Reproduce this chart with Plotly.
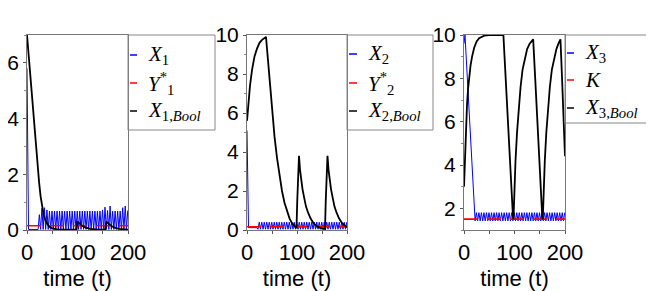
import plotly.graph_objects as go
from plotly.subplots import make_subplots

# ---------------- data ----------------
# oscillation time grid shared by the three panels
osc_trough_t = [22, 27, 32, 37, 42, 47, 52, 57, 62, 67, 72, 77, 82, 87, 92, 97, 102, 107,
                112, 117, 122, 127, 132, 137, 142, 147, 152, 157, 162, 167, 172, 177, 182,
                187, 192, 197]
osc_peak_t = [24.5, 29.5, 34.5, 39.5, 44.5, 49.5, 54.5, 59.5, 64.5, 69.5, 74.5, 79.5, 84.5,
              89.5, 94.5, 99.5, 104.5, 109.5, 114.5, 119.5, 124.5, 129.5, 134.5, 139.5,
              144.5, 149.5, 154.5, 159.5, 164.5, 169.5, 174.5, 179.5, 184.5, 189.5, 194.5,
              199.5]

# Panel 1
x1_pre_t = [0, 3, 20]
x1_pre_v = [5.8, 0.02, 0.02]
x1_trough_v = [0.02, 0.02, 0.02, 0.02, 0.02, 0.02, 0.02, 0.02, 0.02, 0.02, 0.02, 0.02,
               0.02, 0.02, 0.02, 0.02, 0.02, 0.02, 0.02, 0.02, 0.02, 0.02, 0.02, 0.02,
               0.02, 0.02, 0.02, 0.02, 0.02, 0.02, 0.02, 0.02, 0.02, 0.02, 0.02, 0.02]
x1_peak_v = [0.55, 0.78, 0.80, 0.72, 0.68, 0.68, 0.68, 0.68, 0.68, 0.68, 0.68, 0.68,
             0.68, 0.68, 0.68, 0.68, 0.68, 0.68, 0.68, 0.68, 0.68, 0.68, 0.68, 0.68,
             0.68, 0.72, 0.82, 0.70, 0.86, 0.68, 0.68, 0.68, 0.68, 0.80, 0.86, 0.70]
y1_t = [0, 200]
y1_v = [0.15, 0.15]
x1b_t = [0, 3, 6, 9, 12, 15, 18, 21, 24, 27, 30, 33, 36, 40, 45, 50, 60, 80, 98,
         100, 103, 108, 115, 125, 140, 155, 157, 160, 165, 172, 182, 200]
x1b_v = [7.0, 6.3, 5.6, 5.0, 4.4, 3.7, 3.0, 2.3, 1.7, 1.2, 0.8, 0.55, 0.37, 0.22, 0.11,
         0.06, 0.02, 0.01, 0.01, 0.30, 0.25, 0.17, 0.09, 0.04, 0.01, 0.01, 0.30, 0.25,
         0.17, 0.09, 0.04, 0.01]

# Panel 2
x2_pre_t = [0, 3, 20]
x2_pre_v = [5.1, 0.12, 0.12]
x2_trough_v = [0.04, 0.04, 0.04, 0.04, 0.04, 0.04, 0.04, 0.04, 0.04, 0.04, 0.04, 0.04,
               0.04, 0.04, 0.04, 0.04, 0.04, 0.04, 0.04, 0.04, 0.04, 0.04, 0.04, 0.04,
               0.04, 0.04, 0.04, 0.04, 0.04, 0.04, 0.04, 0.04, 0.04, 0.04, 0.04, 0.04]
x2_peak_v = [0.40, 0.40, 0.40, 0.40, 0.40, 0.40, 0.40, 0.40, 0.40, 0.40, 0.40, 0.40,
             0.40, 0.40, 0.40, 0.40, 0.40, 0.40, 0.40, 0.40, 0.40, 0.40, 0.40, 0.40,
             0.40, 0.40, 0.40, 0.40, 0.40, 0.40, 0.40, 0.40, 0.40, 0.40, 0.40, 0.40]
y2_t = [0, 200]
y2_v = [0.17, 0.17]
x2b_t = [0, 3, 6, 10, 15, 20, 25, 30, 38, 40, 43, 46, 50, 55, 60, 65, 70, 75, 80, 85, 90,
         95, 99, 100.5, 102, 104, 106, 108, 111, 114, 118, 122, 127, 133, 140, 150, 156,
         157.5, 159, 161, 163, 165, 168, 171, 175, 179, 184, 190, 197, 200]
x2b_v = [5.6, 6.6, 7.4, 8.2, 8.9, 9.3, 9.6, 9.75, 9.9, 9.3, 8.3, 7.3, 6.1, 4.8, 3.7, 2.8,
         2.0, 1.4, 0.95, 0.6, 0.35, 0.18, 0.1, 1.5, 2.7, 3.8, 3.1, 2.6, 2.1, 1.7, 1.2,
         0.9, 0.6, 0.35, 0.18, 0.07, 0.05, 1.5, 2.7, 3.8, 3.1, 2.6, 2.1, 1.7, 1.2, 0.9,
         0.6, 0.35, 0.18, 0.14]

# Panel 3
x3_pre_t = [0, 2, 8, 14, 19]
x3_pre_v = [9.6, 10.0, 7.4, 4.8, 2.6]
x3_trough_v = [1.42, 1.42, 1.42, 1.42, 1.42, 1.42, 1.42, 1.42, 1.42, 1.42, 1.42, 1.42,
               1.42, 1.42, 1.42, 1.42, 1.42, 1.42, 1.42, 1.42, 1.42, 1.42, 1.42, 1.42,
               1.42, 1.42, 1.42, 1.42, 1.42, 1.42, 1.42, 1.42, 1.42, 1.42, 1.42, 1.42]
x3_peak_v = [1.80, 1.80, 1.80, 1.80, 1.80, 1.80, 1.80, 1.80, 1.80, 1.80, 1.80, 1.80,
             1.80, 1.80, 1.80, 1.80, 1.80, 1.80, 1.80, 1.80, 1.80, 1.80, 1.80, 1.80,
             1.80, 1.80, 1.80, 1.80, 1.80, 1.80, 1.80, 1.80, 1.80, 1.80, 1.80, 1.80]
k_t = [0, 200]
k_v = [1.5, 1.5]
x3b_t = [0, 2, 4, 6, 8, 10, 13, 16, 20, 25, 30, 40, 50, 78, 82, 86, 90, 94, 97, 98,
         100, 102, 105, 108, 112, 116, 120, 125, 130, 137, 141, 145, 149, 152, 155, 156,
         158, 160, 163, 166, 170, 174, 178, 183, 187, 191, 194, 197, 200]
x3b_v = [3.0, 4.6, 5.8, 6.8, 7.5, 8.0, 8.6, 9.0, 9.4, 9.7, 9.85, 9.97, 10.0, 10.0, 8.2,
         6.3, 4.4, 2.7, 1.6, 1.5, 3.0, 4.2, 5.5, 6.6, 7.6, 8.4, 8.9, 9.35, 9.6, 9.8, 8.0,
         6.0, 4.2, 2.9, 1.6, 1.5, 3.0, 4.2, 5.5, 6.6, 7.6, 8.4, 8.9, 9.35, 9.6, 9.8, 8.1,
         6.2, 4.4]

y_ranges = [[0, 7], [0, 10], [1, 10]]
x_tickvals = [0, 50, 100, 150, 200]
x_ticktext = ["0", "", "100", "", "200"]

legend_labels = [
    ["<i>X</i><sub>1</sub>", "<i>Y</i><sup>*</sup><sub>1</sub>", "<i>X</i><sub>1,<i>Bool</i></sub>"],
    ["<i>X</i><sub>2</sub>", "<i>Y</i><sup>*</sup><sub>2</sub>", "<i>X</i><sub>2,<i>Bool</i></sub>"],
    ["<i>X</i><sub>3</sub>", "<i>K</i>", "<i>X</i><sub>3,<i>Bool</i></sub>"],
]
series_names = [["X1", "Y1*", "X1,Bool"], ["X2", "Y2*", "X2,Bool"], ["X3", "K", "X3,Bool"]]
colors = ["#0000ff", "#ff0000", "#000000"]


def osc(pre_t, pre_v, trough_v, peak_v):
    ts, vs = list(pre_t), list(pre_v)
    for tt, tv, pt, pv in zip(osc_trough_t, trough_v, osc_peak_t, peak_v):
        ts += [tt, pt]
        vs += [tv, pv]
    return ts, vs


panels = [
    (osc(x1_pre_t, x1_pre_v, x1_trough_v, x1_peak_v), (y1_t, y1_v), (x1b_t, x1b_v)),
    (osc(x2_pre_t, x2_pre_v, x2_trough_v, x2_peak_v), (y2_t, y2_v), (x2b_t, x2b_v)),
    (osc(x3_pre_t, x3_pre_v, x3_trough_v, x3_peak_v), (k_t, k_v), (x3b_t, x3b_v)),
]

# ---------------- layout geometry (page pixels) ----------------
PAGE_OFF = 8               # default body margin of the page
W, H = 654 - PAGE_OFF, 291 - PAGE_OFF
plot_x = [(27, 128), (247, 347), (464, 565)]
plot_y = (35, 230)
leg_box = [(128, 215, 35, 130), (347, 433, 35, 130), (565, 652, 35, 123)]
leg_line_x = [(130, 137), (349, 357), (567, 574)]
leg_text_x = [146, 366, 583]
leg_rows = [(55, 83, 111), (54, 83, 111), (53, 80, 108)]


def px(x):
    return (x - PAGE_OFF) / W


def py(y):
    return 1 - (y - PAGE_OFF) / H


fig = make_subplots(rows=1, cols=3)

for i, (blue, red, black) in enumerate(panels):
    widths = [1, 1.6, 1.8]
    dashes = ["solid", "14px,9px", "solid"]
    for j, (ts, vs) in enumerate([blue, red, black]):
        fig.add_trace(go.Scatter(x=ts, y=vs, mode="lines", name=series_names[i][j],
                                 line=dict(color=colors[j], width=widths[j], dash=dashes[j]),
                                 showlegend=False), row=1, col=i + 1)

x_font = dict(family="Liberation Sans, Arial, sans-serif", size=22, color="black")
y_font = dict(family="Liberation Sans, Arial, sans-serif", size=21, color="black")
for i in range(3):
    xa = "xaxis" if i == 0 else f"xaxis{i+1}"
    ya = "yaxis" if i == 0 else f"yaxis{i+1}"
    fig.layout[xa].update(
        domain=[px(plot_x[i][0]), px(plot_x[i][1])], range=[0, 200], automargin=False,
        tickvals=x_tickvals, ticktext=x_ticktext, ticks="outside", ticklen=3,
        tickcolor="#555", showline=True, mirror=True, linecolor="#777", linewidth=1,
        showgrid=False, zeroline=False, tickfont=x_font,
        title=dict(text="time (t)", font=x_font, standoff=6))
    fig.layout[ya].update(
        domain=[py(plot_y[1]), py(plot_y[0])], range=y_ranges[i], dtick=2, automargin=False,
        ticks="outside", ticklen=3, tickcolor="#555",
        minor=dict(dtick=1, ticks="outside", ticklen=2, tickcolor="#888"),
        showline=True, mirror=True, linecolor="#777", linewidth=1,
        showgrid=False, zeroline=False, tickfont=y_font)

shapes, annotations = [], []
for i in range(3):
    x0, x1, y0, y1 = leg_box[i]
    shapes.append(dict(type="rect", xref="paper", yref="paper", x0=px(x0), x1=px(x1),
                       y0=py(y1), y1=py(y0), line=dict(color="#888", width=1),
                       fillcolor="rgba(0,0,0,0)"))
    for j in range(3):
        yy = leg_rows[i][j]
        shapes.append(dict(type="line", xref="paper", yref="paper",
                           x0=px(leg_line_x[i][0]), x1=px(leg_line_x[i][1]),
                           y0=py(yy), y1=py(yy), line=dict(color=colors[j], width=1.5)))
        annotations.append(dict(xref="paper", yref="paper", x=px(leg_text_x[i]), y=py(yy),
                                xanchor="left", yanchor="middle", showarrow=False,
                                text=legend_labels[i][j],
                                font=dict(family="Liberation Serif, Times New Roman, serif",
                                          size=21, color="black")))

fig.update_layout(width=W, height=H, margin=dict(l=0, r=0, t=0, b=0),
                  plot_bgcolor="white", paper_bgcolor="white",
                  shapes=shapes, annotations=annotations)

fig.write_html("out.html")
